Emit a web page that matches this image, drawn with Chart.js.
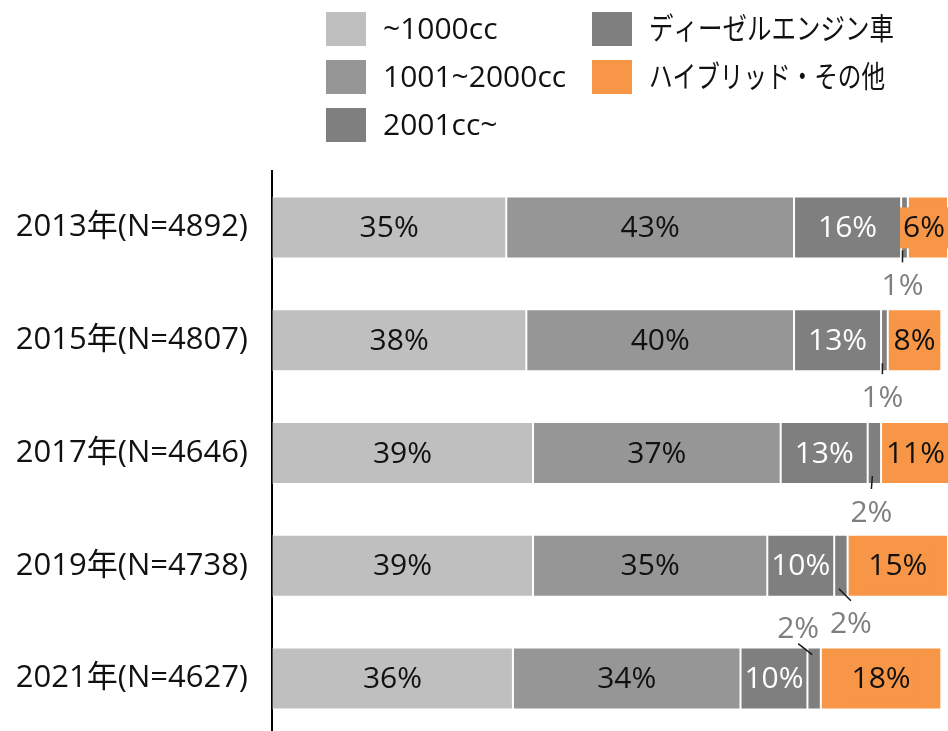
<!DOCTYPE html>
<html lang="ja">
<head>
<meta charset="utf-8">
<script src="https://cdn.jsdelivr.net/npm/chart.js@4/dist/chart.umd.min.js"></script>
<style>
  html, body { margin: 0; padding: 0; background: #fff; overflow: hidden; }
  canvas { display: block; }
</style>
</head>
<body>
<canvas id="c" width="948" height="735"></canvas>
<script>
// Survey years with sample sizes
const categories = ['2013年(N=4892)', '2015年(N=4807)', '2017年(N=4646)', '2019年(N=4738)', '2021年(N=4627)'];

// Share of each vehicle type (%)
const upTo1000cc    = [35, 38, 39, 39, 36];
const cc1001to2000  = [43, 40, 37, 35, 34];
const from2001cc    = [16, 13, 13, 10, 10];
const dieselEngine  = [1, 1, 2, 2, 2];
const hybridOther   = [6, 8, 11, 15, 18];

const seriesNames = ['~1000cc', '1001~2000cc', '2001cc~', 'ディーゼルエンジン車', 'ハイブリッド・その他'];

// Appearance
const seriesColors = ['#bfbfbf', '#969696', '#7f7f7f', '#7f7f7f', '#f79646'];
const labelColors  = ['#111111', '#111111', '#ffffff', '#7f7f7f', '#111111'];
const FONT = '"Open Sans", "Noto Sans CJK JP", sans-serif';

// Diesel labels sit outside their thin segment, joined by a short leader line
const dieselCallout = [
  { dx: -2, dy: 58 }, { dx: -2, dy: 57 }, { dx: -3, dy: 59 }, { dx: 10, dy: 58 }, { dx: -16, dy: -50 }
];

const seriesData = [upTo1000cc, cc1001to2000, from2001cc, dieselEngine, hybridOther];

const datasets = seriesData.map((d, i) => ({
  label: seriesNames[i],
  data: d,
  backgroundColor: seriesColors[i],
  borderColor: 'rgba(255,255,255,0.3)',
  borderWidth: 1,
  borderSkipped: false,
  labelColor: labelColors[i],
  labelBg: i === 4 ? seriesColors[i] : null,
  callout: i === 3 ? dieselCallout : null
}));

// Percent labels drawn on (or next to) each segment
const valueLabels = {
  id: 'valueLabels',
  afterDatasetsDraw(chart) {
    const ctx = chart.ctx;
    const area = chart.chartArea;
    ctx.save();
    ctx.font = '30px ' + FONT;
    ctx.textAlign = 'center';
    ctx.textBaseline = 'middle';
    chart.data.datasets.forEach((ds, di) => {
      const meta = chart.getDatasetMeta(di);
      meta.data.forEach((bar, i) => {
        const txt = Math.round(ds.data[i]) + '%';
        let cx = (bar.x + bar.base) / 2;
        const cy = bar.y;
        const half = bar.height / 2;
        const w = ctx.measureText(txt).width;
        if (ds.callout) {
          const o = ds.callout[i];
          const lx = cx + o.dx, ly = cy + o.dy;
          ctx.strokeStyle = '#1a1a1a';
          ctx.lineWidth = 1.5;
          ctx.beginPath();
          if (o.dy > 0) {
            ctx.moveTo(cx - 2, cy + half - 8);
            ctx.lineTo(lx, ly - 23);
          } else {
            ctx.moveTo(cx - 2, cy - half + 7);
            ctx.lineTo(lx, ly + 15);
          }
          ctx.stroke();
          ctx.fillStyle = ds.labelColor;
          ctx.fillText(txt, lx, ly + 1);
          return;
        }
        if (cx + w / 2 + 3 > area.right) cx = area.right - w / 2 - 3;
        if (ds.labelBg) {
          ctx.fillStyle = ds.labelBg;
          ctx.fillRect(cx - w / 2 - 3, cy - 20, w + 6, 41);
        }
        ctx.fillStyle = ds.labelColor;
        ctx.fillText(txt, cx, cy + 1);
      });
    });
    ctx.restore();
  }
};

// Two-column legend (column-major order) above the plot
const legendColumns = [[0, 1, 2], [3, 4]];
const legendTextWidth = [null, null, null, 245, 236];
const columnLegend = {
  id: 'columnLegend',
  afterDraw(chart) {
    const ctx = chart.ctx;
    const colX = [326, 592];
    const rowY = [29, 77, 125];
    const boxW = 40, boxH = 34, textGap = 57;
    ctx.save();
    ctx.font = '30px ' + FONT;
    ctx.textAlign = 'left';
    ctx.textBaseline = 'middle';
    legendColumns.forEach((col, c) => {
      col.forEach((di, r) => {
        const ds = chart.data.datasets[di];
        ctx.fillStyle = ds.backgroundColor;
        ctx.fillRect(colX[c], rowY[r] - boxH / 2, boxW, boxH);
        ctx.fillStyle = '#111111';
        const mw = legendTextWidth[di];
        if (mw) ctx.fillText(ds.label, colX[c] + textGap, rowY[r] + 1, mw);
        else ctx.fillText(ds.label, colX[c] + textGap, rowY[r] + 1);
      });
    });
    ctx.restore();
  }
};

new Chart(document.getElementById('c'), {
  type: 'bar',
  data: { labels: categories, datasets },
  plugins: [valueLabels, columnLegend],
  options: {
    indexAxis: 'y',
    responsive: false,
    animation: false,
    layout: { autoPadding: false, padding: { top: 171, left: 0, right: 0, bottom: 0 } },
    plugins: { legend: { display: false }, tooltip: { enabled: false } },
    datasets: { bar: { categoryPercentage: 1, barPercentage: 0.55 } },
    scales: {
      x: { stacked: true, display: false, min: 0, max: 101 },
      y: {
        stacked: true,
        afterFit(scale) {
          scale.width = 272;
          scale.paddingTop = 0;
          scale.paddingBottom = 0;
        },
        grid: { display: false, drawTicks: false },
        border: { display: true, color: '#000000', width: 2 },
        ticks: { color: '#111111', padding: 24, font: { size: 31, family: FONT } }
      }
    }
  }
});
</script>
</body>
</html>
